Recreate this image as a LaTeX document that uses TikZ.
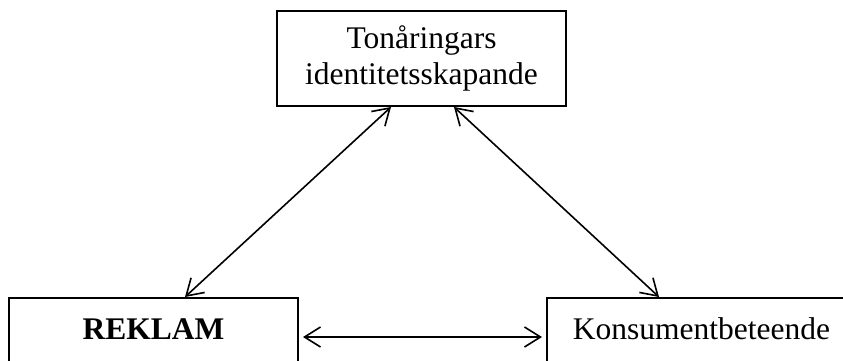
\documentclass[tikz,border=0pt]{standalone}
\usepackage{fontspec}
\setmainfont{Liberation Serif}
\usetikzlibrary{arrows.meta}

\begin{document}
\begin{tikzpicture}[x=1pt,y=1pt,line width=0.8pt,
            every node/.style={draw,rectangle,line width=1pt,inner sep=0pt,align=center,
                font=\fontsize{15.75}{18}\selectfont},
            link/.style={{Straight Barb[length=8pt,width=10pt]}-{Straight Barb[length=8pt,width=10pt]}}]
                \useasboundingbox (0,0) rectangle (421.5,180);
                \node[minimum width=144.5pt,minimum height=47.5pt](tonaring) at (210.75, 150.75) {Tonåringars\\identitetsskapande};
                \node[minimum width=144.5pt,minimum height=34pt,text depth=3pt,font=\fontsize{15.75}{18}\selectfont\bfseries](reklam) at (76.75, 14) {REKLAM};
                \node[minimum width=154.5pt,minimum height=34pt,text depth=3pt](konsument) at (350.75, 14) {Konsumentbeteende};
                \draw[link] ([xshift=-15.25pt]tonaring.south) -- ([xshift=15.75pt]reklam.north);
                \draw[link] ([xshift=16.25pt]tonaring.south) -- ([xshift=-21.25pt]konsument.north);
                \draw[link,shorten <=2pt,shorten >=2pt] ([yshift=-2.5pt]reklam.east) -- ([yshift=-2.5pt]konsument.west);
        \end{tikzpicture}
\end{document}
